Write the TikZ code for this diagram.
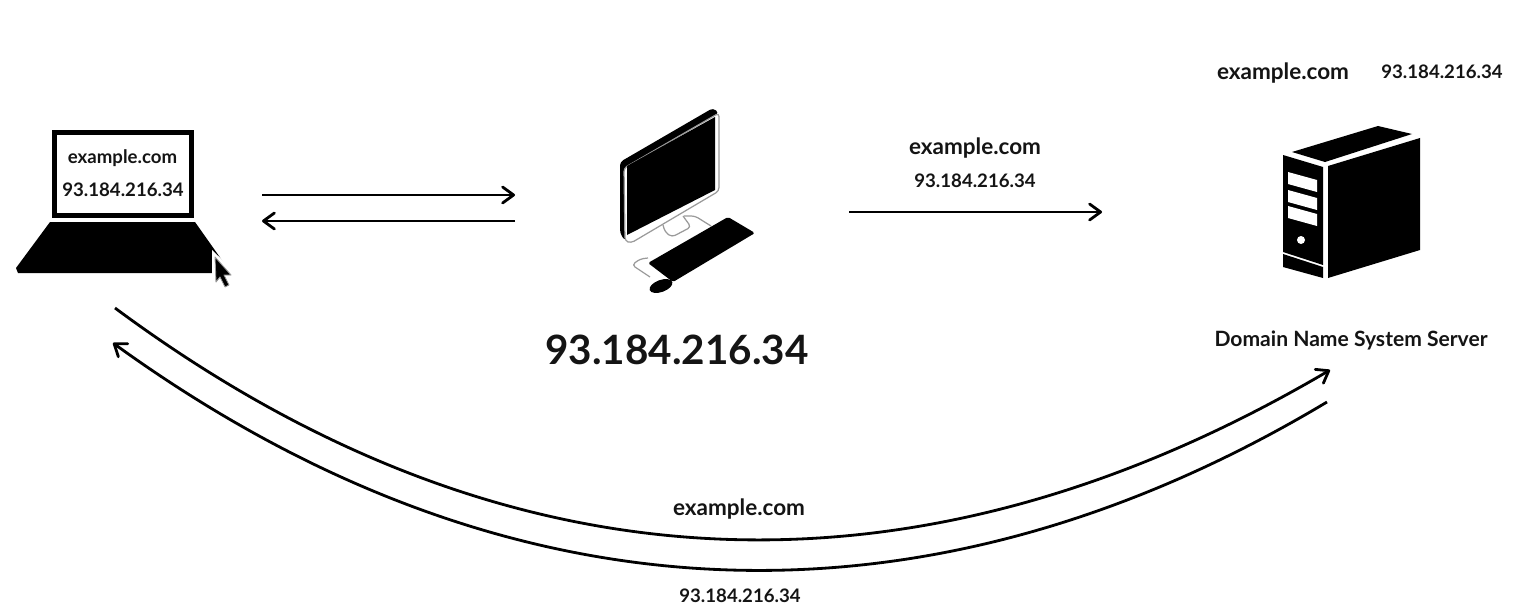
\documentclass[tikz,border=0pt]{standalone}
\usepackage{xcolor}
\usepackage{fontspec}
\setmainfont{Lato}
\usepackage{tikz}
\usetikzlibrary{arrows.meta}
\definecolor{myink}{HTML}{141414}
\definecolor{mygray}{HTML}{9A9A9A}
\tikzset{
  flow/.style={line width=1.6pt, black, -{Straight Barb[round, length=2.2mm, width=3.2mm]}},
  solidpart/.style={fill=black, draw=none},
  thinpart/.style={draw=mygray, line width=0.7pt, line join=round},
  biglabel/.style={font=\fontsize{23}{26}\bfseries\selectfont, text=myink, inner sep=0pt},
  midlabel/.style={font=\fontsize{12.8}{15}\bfseries\selectfont, text=myink, inner sep=0pt},
  smalllabel/.style={font=\fontsize{10.6}{13}\bfseries\selectfont, text=myink, inner sep=0pt},
}
\begin{document}
\begin{tikzpicture}[x=0.02cm, y=-0.02cm]
    \useasboundingbox (0, 0) rectangle (1528, 615);

    % laptop
    \draw[line width=2.8pt, black, fill=white] (54.5, 132.5) rectangle (191.5, 215.5);
    \fill[solidpart] (50, 222) -- (195, 222) -- (231, 273) -- (18, 273)
      -- (16, 268) -- cycle;
    \node (laptopname) at (122.5, 158) [smalllabel] {example.com};
    \node (laptopip) at (123, 190) [smalllabel] {93.184.216.34};

    % cursor over the laptop corner
    \fill[white] (212, 250) -- (236, 273) -- (232, 290) -- (212, 290) -- cycle;
    \draw[draw=mygray, fill=black, line width=0.5pt, line join=round]
      (215, 257) -- (231, 275) -- (224, 275) -- (229, 285) -- (225, 287) -- (220, 277) -- (216, 282) -- cycle;

    % desktop computer
    \fill[solidpart, rounded corners=2pt] (620, 162) -- (713, 108) -- (719, 113) -- (627, 166)
      -- (627, 236) -- (625, 241) -- (620, 233) -- cycle;
    \draw[thinpart, fill=white, rounded corners=2pt] (719, 113) -- (719, 191) -- (631, 243)
      -- (625, 241) -- (624, 168) -- cycle;
    \fill[solidpart] (627, 166) -- (715, 117) -- (715, 190) -- (627, 235) -- cycle;
    \draw[thinpart, rounded corners=2pt] (663, 225) -- (665, 232) -- (672, 237) -- (691, 227) -- (683, 216);
    \draw[thinpart, rounded corners=2pt] (684, 216) -- (695, 216) -- (711, 226);
    \draw[thinpart, rounded corners=2pt] (648, 258) -- (640, 259) -- (632, 265) -- (650, 277);
    \fill[solidpart, rounded corners=1pt] (648, 263) -- (728, 217) -- (755, 233) -- (673, 282) -- cycle;
    \fill[solidpart, rotate around={20:(661, 286)}] (661, 286) ellipse (12 and 6);
    \node (hostip) at (677, 350) [biglabel] {93.184.216.34};

    % server box
    \fill[solidpart] (1292, 152) -- (1378, 126) -- (1412, 134) -- (1325, 162) -- cycle;
    \fill[solidpart] (1328, 166) -- (1420, 138) -- (1420, 250) -- (1328, 278) -- cycle;
    \fill[solidpart] (1283, 155) -- (1323, 167) -- (1323, 265) -- (1283, 252) -- cycle;
    \fill[solidpart] (1283, 254) -- (1323, 267) -- (1323, 278) -- (1283, 267) -- cycle;
    \foreach \yy in {0, 18, 34} {
      \fill[white] (1288, 172+\yy) -- (1317, 180+\yy) -- (1317, 192+\yy) -- (1288, 184+\yy) -- cycle;
    }
    \fill[white] (1301, 240) circle (4);
    \node (servername) at (1351, 340) [midlabel, font=\fontsize{12}{15}\bfseries\selectfont] {Domain Name System Server};
    \node (dnsname) at (1283, 73) [midlabel] {example.com};
    \node (dnsip) at (1442, 72) [smalllabel] {93.184.216.34};

    % labels along the arrows
    \node (queryname) at (975, 148) [midlabel] {example.com};
    \node (queryip) at (975, 180.5) [smalllabel] {93.184.216.34};
    \node (arcname) at (739, 509.5) [midlabel] {example.com};
    \node (arcip) at (740, 596) [smalllabel] {93.184.216.34};

    % arrow ends
    \coordinate (lapout) at (262, 195);
    \coordinate (hostin) at (515, 195);
    \coordinate (hostout) at (515, 221);
    \coordinate (lapin) at (262, 221);
    \coordinate (hostsend) at (849, 212);
    \coordinate (dnsin) at (1102, 212);
    \coordinate (lapstart) at (115, 308);
    \coordinate (dnsend) at (1330, 370);
    \coordinate (dnsstart) at (1327, 402);
    \coordinate (lapend) at (113, 343);

    \draw[flow] (lapout) -- (hostin);
    \draw[flow] (hostout) -- (lapin);
    \draw[flow] (hostsend) -- (dnsin);
    \draw[flow] (lapstart) .. controls (544, 626) and (961, 587) .. (dnsend);
    \draw[flow] (dnsstart) .. controls (965, 619) and (542, 653) .. (lapend);
  \end{tikzpicture}
\end{document}
